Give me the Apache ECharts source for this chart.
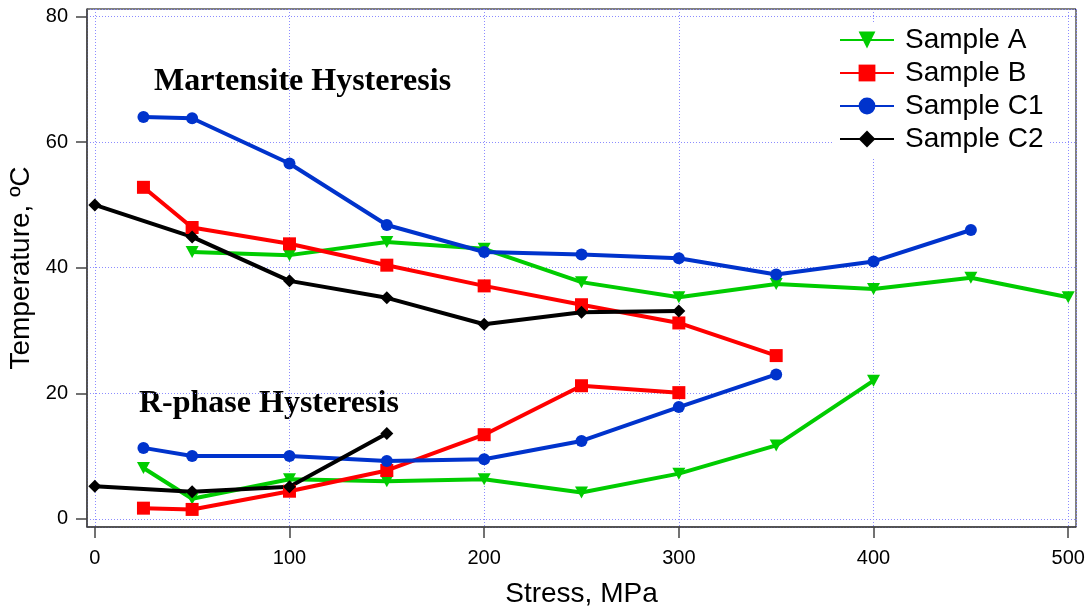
<!DOCTYPE html>
<html>
<head>
<meta charset="utf-8">
<script src="https://cdn.jsdelivr.net/npm/echarts@6/dist/echarts.min.js"></script>
<style>
  html, body { margin: 0; padding: 0; background: #fff; }
  #chart { width: 1089px; height: 608px; }
</style>
</head>
<body>
<div id="chart"></div>
<script>
// stress (MPa) and temperature (ºC)
const xA_mart = [50, 100, 150, 200, 250, 300, 350, 400, 450, 500];
const yA_mart = [42.5, 42.0, 44.1, 43.0, 37.7, 35.3, 37.4, 36.6, 38.4, 35.3];
const xA_r = [25, 50, 100, 150, 200, 250, 300, 350, 400];
const yA_r = [8.1, 3.2, 6.3, 6.0, 6.3, 4.2, 7.2, 11.7, 22.0];

const xB_mart = [25, 50, 100, 150, 200, 250, 300, 350];
const yB_mart = [52.8, 46.4, 43.8, 40.4, 37.1, 34.1, 31.2, 26.0];
const xB_r = [25, 50, 100, 150, 200, 250, 300];
const yB_r = [1.7, 1.5, 4.4, 7.7, 13.4, 21.2, 20.1];

const xC1_mart = [25, 50, 100, 150, 200, 250, 300, 350, 400, 450];
const yC1_mart = [64.0, 63.8, 56.6, 46.8, 42.5, 42.1, 41.5, 38.9, 41.0, 46.0];
const xC1_r = [25, 50, 100, 150, 200, 250, 300, 350];
const yC1_r = [11.3, 10.0, 10.0, 9.2, 9.5, 12.4, 17.8, 23.0];

const xC2_mart = [0, 50, 100, 150, 200, 250, 300];
const yC2_mart = [50.0, 44.9, 37.9, 35.2, 31.0, 32.9, 33.1];
const xC2_r = [0, 50, 100, 150];
const yC2_r = [5.2, 4.3, 5.1, 13.6];

const sampleNames = ['Sample A', 'Sample B', 'Sample C1', 'Sample C2'];

function zip(xs, ys) {
    let out = [];
    for (let i = 0; i < xs.length; i++) {
        out.push([xs[i], ys[i]]);
    }
    return out;
}

const fontSans = 'Liberation Sans, Arial, Helvetica, sans-serif';
const fontSerif = 'Liberation Serif, Times New Roman, serif';

// one look per sample
const looks = [
    {color: '#00cc00', symbol: 'path://M0,0 L10,0 L5,9 Z', size: [13, 12]},
    {color: '#ff0000', symbol: 'rect', size: 13},
    {color: '#0033cc', symbol: 'circle', size: 12},
    {color: '#000000', symbol: 'diamond', size: [13, 13]}
];

const branches = [
    [zip(xA_mart, yA_mart), zip(xA_r, yA_r)],
    [zip(xB_mart, yB_mart), zip(xB_r, yB_r)],
    [zip(xC1_mart, yC1_mart), zip(xC1_r, yC1_r)],
    [zip(xC2_mart, yC2_mart), zip(xC2_r, yC2_r)]
];

let series = [];
for (let i = 0; i < sampleNames.length; i++) {
    for (let j = 0; j < 2; j++) {//j=0 martensite branch, j=1 R-phase branch
        series.push({
            name: sampleNames[i],
            type: 'line',
            data: branches[i][j],
            symbol: looks[i].symbol,
            symbolSize: looks[i].size,
            showAllSymbol: true,
            color: looks[i].color,
            lineStyle: {width: 4, color: looks[i].color},
            itemStyle: {color: looks[i].color},
            emphasis: {disabled: true},
            animation: false
        });
    }
}

let myChart = echarts.init(document.getElementById('chart'), null, {renderer: 'canvas'});

const gridStyle = {color: '#8c8cff', type: [1, 2], width: 1};

let option = {
    backgroundColor: '#fff',
    animation: false,
    grid: {
        left: 87, right: 13, top: 9, bottom: 81,
        outerBoundsMode: 'none',
        containLabel: false,
        show: true,
        borderColor: '#000',
        borderWidth: 1
    },
    xAxis: {
        type: 'value',
        min: -4,
        max: 504,
        splitNumber: 5,
        name: 'Stress, MPa',
        nameLocation: 'middle',
        nameGap: 53,
        nameTextStyle: {fontFamily: fontSans, fontSize: 28, color: '#000'},
        axisLine: {show: true, onZero: false, lineStyle: {color: '#444', width: 1.5}},
        axisTick: {show: true, inside: false, length: 11, lineStyle: {color: '#444', width: 1.5}},
        axisLabel: {
            fontFamily: fontSans, fontSize: 20, color: '#000', margin: 21,
            showMinLabel: false, showMaxLabel: false
        },
        splitLine: {show: true, lineStyle: gridStyle}
    },
    yAxis: {
        type: 'value',
        min: -1.3,
        max: 81.2,
        splitNumber: 4,
        name: 'Temperature, ºC',
        nameLocation: 'middle',
        nameGap: 37,
        nameTextStyle: {fontFamily: fontSans, fontSize: 28, color: '#000'},
        axisLine: {show: true, onZero: false, lineStyle: {color: '#444', width: 1.5}},
        axisTick: {show: true, inside: false, length: 11, lineStyle: {color: '#444', width: 1.5}},
        axisLabel: {
            fontFamily: fontSans, fontSize: 20, color: '#000', margin: 19,
            showMinLabel: false, showMaxLabel: false
        },
        splitLine: {show: true, lineStyle: gridStyle}
    },
    legend: {
        data: sampleNames,
        orient: 'vertical',
        left: 834,
        top: 22,
        padding: [4, 6, 4, 5],
        backgroundColor: '#fff',
        itemWidth: 54,
        itemHeight: 21,
        itemGap: 5,
        selectedMode: true,
        textStyle: {fontFamily: fontSans, fontSize: 28, color: '#000', lineHeight: 28, padding: [0, 0, 0, 6]}
    },
    graphic: [
        {
            type: 'text',
            left: 154,
            top: 66,
            style: {
                text: 'Martensite Hysteresis',
                font: 'bold 32px ' + fontSerif,
                fill: '#000'
            }
        },
        {
            type: 'text',
            left: 139,
            top: 388,
            style: {
                text: 'R-phase Hysteresis',
                font: 'bold 32px ' + fontSerif,
                fill: '#000'
            }
        }
    ],
    series: series
};

myChart.setOption(option);
</script>
</body>
</html>
